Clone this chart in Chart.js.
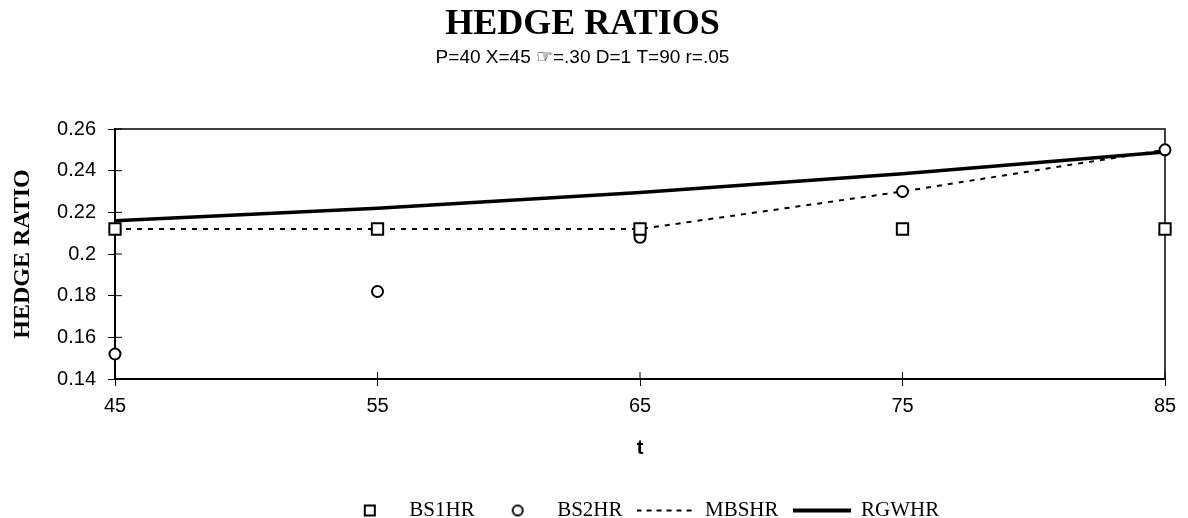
<!DOCTYPE html>
<html>
<head>
<meta charset="utf-8">
<script src="https://cdn.jsdelivr.net/npm/chart.js@4.4.0/dist/chart.umd.min.js"></script>
<style>
  body { margin: 0; background: #fff; }
  #wrap { width: 1188px; height: 518px; }
</style>
</head>
<body>
<div id="wrap"><canvas id="hedgeChart"></canvas></div>
<script>
// values
var tValues = [45, 55, 65, 75, 85];
var bs1hr = [0.212, 0.212, 0.212, 0.212, 0.212];
var bs2hr = [0.152, 0.182, 0.208, 0.230, 0.250];
var mbshr = [0.212, 0.212, 0.212, 0.230, 0.250];
var rgwhr = [0.216, 0.222, 0.2295, 0.2385, 0.249];
var yTicks = { min: 0.14, max: 0.26, step: 0.02 };
var xTicks = { min: 45, max: 85, step: 10 };

function pts(vals) {
  return tValues.map(function (t, i) { return { x: t, y: vals[i] }; });
}

// little canvases used as legend symbols
function makeIcon(draw) {
  var c = document.createElement('canvas');
  c.width = 58; c.height = 16;
  var g = c.getContext('2d');
  g.strokeStyle = '#000';
  g.fillStyle = '#fff';
  draw(g);
  return c;
}
var iconSquare = makeIcon(function (g) {
  g.lineWidth = 2;
  g.fillRect(24, 3, 10, 10);
  g.strokeRect(24, 3, 10, 10);
});
var iconCircle = makeIcon(function (g) {
  g.lineWidth = 2;
  g.beginPath(); g.arc(29, 8, 5, 0, Math.PI * 2);
  g.fill(); g.stroke();
});
var iconDash = makeIcon(function (g) {
  g.lineWidth = 2;
  g.setLineDash([5, 5]);
  g.beginPath(); g.moveTo(0, 8); g.lineTo(58, 8); g.stroke();
});
var iconSolid = makeIcon(function (g) {
  g.lineWidth = 4;
  g.beginPath(); g.moveTo(0, 8); g.lineTo(58, 8); g.stroke();
});
var legendIcons = [iconSquare, iconCircle, iconDash, iconSolid];

// box around the plot plus the inward half of the tick marks
var framePlugin = {
  id: 'frame',
  beforeDatasetsDraw: function (chart) {
    var a = chart.chartArea, ctx = chart.ctx;
    ctx.save();
    ctx.strokeStyle = '#000';
    ctx.lineWidth = 1.5;
    ctx.beginPath();
    ctx.moveTo(a.left, a.top); ctx.lineTo(a.right, a.top); ctx.lineTo(a.right, a.bottom);
    ctx.stroke();
    ctx.lineWidth = 1;
    var xs = chart.scales.x, ys = chart.scales.y;
    xs.ticks.forEach(function (t, i) {
      var px = xs.getPixelForTick(i);
      ctx.beginPath(); ctx.moveTo(px, a.bottom); ctx.lineTo(px, a.bottom - 7); ctx.stroke();
    });
    ys.ticks.forEach(function (t, i) {
      var py = ys.getPixelForTick(i);
      ctx.beginPath(); ctx.moveTo(a.left, py); ctx.lineTo(a.left + 7, py); ctx.stroke();
    });
    ctx.restore();
  }
};

Chart.defaults.font.family = 'Liberation Sans';
Chart.defaults.color = '#000';

var ctx = document.getElementById('hedgeChart').getContext('2d');
var myChart = new Chart(ctx, {
  type: 'line',
  data: {
    datasets: [{
      label: 'BS1HR',
      data: pts(bs1hr),
      showLine: false,
      pointStyle: 'rect',
      pointRadius: 8,
      pointBorderWidth: 2,
      pointBackgroundColor: '#fff',
      pointBorderColor: '#000',
      clip: false
    }, {
      label: 'BS2HR',
      data: pts(bs2hr),
      showLine: false,
      pointStyle: 'circle',
      pointRadius: 5.5,
      pointBorderWidth: 2,
      pointBackgroundColor: '#fff',
      pointBorderColor: '#000',
      clip: false
    }, {
      label: 'MBSHR',
      data: pts(mbshr),
      borderColor: '#000',
      borderWidth: 2,
      borderDash: [5, 6],
      pointRadius: 0,
      tension: 0,
      clip: false
    }, {
      label: 'RGWHR',
      data: pts(rgwhr),
      borderColor: '#000',
      borderWidth: 3.5,
      pointRadius: 0,
      tension: 0,
      clip: false
    }]
  },
  options: {
    responsive: true,
    maintainAspectRatio: false,
    animation: false,
    layout: { padding: { left: 0, right: 23, top: 0, bottom: 0 } },
    scales: {
      x: {
        type: 'linear',
        min: xTicks.min,
        max: xTicks.max,
        afterFit: function (s) { s.height = 107; },
        border: { color: '#000', width: 2 },
        grid: { drawOnChartArea: false, color: '#000', tickLength: 7, tickWidth: 1 },
        ticks: { stepSize: xTicks.step, padding: 8, color: '#000', font: { size: 20 } },
        title: {
          display: true,
          text: 't',
          color: '#000',
          font: { size: 20, weight: 'bold' },
          padding: { top: 0, bottom: 26 }
        }
      },
      y: {
        min: yTicks.min,
        max: yTicks.max,
        afterFit: function (s) { s.width = 115; },
        border: { color: '#000', width: 2 },
        grid: { drawOnChartArea: false, color: '#000', tickLength: 7, tickWidth: 1 },
        ticks: {
          stepSize: yTicks.step,
          padding: 12,
          color: '#000',
          font: { size: 20 },
          callback: function (v) { return String(+v.toFixed(2)); }
        },
        title: {
          display: true,
          text: 'HEDGE RATIO',
          color: '#000',
          font: { family: 'Liberation Serif', size: 24, weight: 'bold' },
          padding: { top: 8, bottom: 0 }
        }
      }
    },
    plugins: {
      title: {
        display: true,
        text: 'HEDGE RATIOS',
        color: '#000',
        font: { family: 'Liberation Serif', size: 36, weight: 'bold' },
        padding: { top: 3, bottom: 0 }
      },
      subtitle: {
        display: true,
        text: 'P=40 X=45 \u261E=.30 D=1 T=90 r=.05',
        color: '#000',
        font: { size: 19 },
        padding: { top: 0, bottom: 60 }
      },
      legend: {
        position: 'bottom',
        fullSize: false,
        maxHeight: 32,
        labels: {
          usePointStyle: true,
          pointStyleWidth: 58,
          padding: 14,
          color: '#000',
          font: { family: 'Liberation Serif', size: 21 },
          generateLabels: function (chart) {
            return chart.data.datasets.map(function (ds, i) {
              return {
                text: ds.label,
                pointStyle: legendIcons[i],
                fillStyle: '#fff',
                strokeStyle: '#000',
                lineWidth: 0,
                fontColor: '#000',
                hidden: false,
                datasetIndex: i
              };
            });
          }
        }
      },
      tooltip: { enabled: false }
    }
  },
  plugins: [framePlugin]
});
</script>
</body>
</html>
